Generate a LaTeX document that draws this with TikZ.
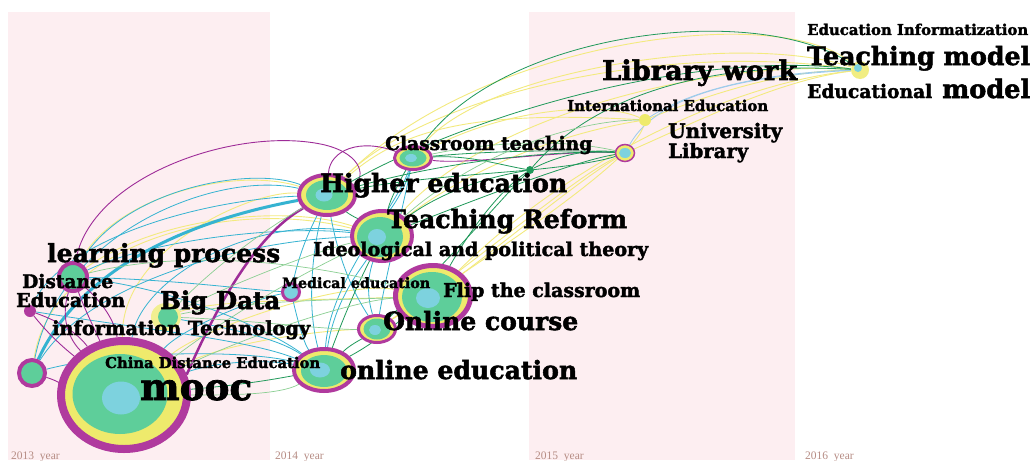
\documentclass[tikz,border=0pt]{standalone}
\usepackage{fontspec}
\usepackage{graphicx}
\usetikzlibrary{shapes.geometric}
\newfontfamily\labfont{DejaVu Serif}[BoldFeatures={FakeBold=2}]
\newfontfamily\yearfont{Liberation Serif}
\definecolor{pinkbg}{HTML}{FDEEF1}
\definecolor{kpur}{HTML}{B03A9E}
\definecolor{kyel}{HTML}{EEEA6C}
\definecolor{kgrn}{HTML}{5ECE9A}
\definecolor{kblu}{HTML}{7DD2DE}
\definecolor{ecya}{HTML}{35B3D1}
\definecolor{eyel}{HTML}{F3EA7E}
\definecolor{egrn}{HTML}{20995A}
\definecolor{elgr}{HTML}{8ACF92}
\definecolor{epur}{HTML}{9E2C98}
\definecolor{eblu}{HTML}{9CCBEB}
\definecolor{yearc}{HTML}{B68C84}
\pgfdeclarelayer{bands}
\pgfdeclarelayer{edges}
\pgfsetlayers{bands,edges,main}
\newcommand\kw[2]{\resizebox{#1pt}{!}{\labfont\bfseries #2}}
\begin{document}
\begin{tikzpicture}[x=1pt,y=-1pt,
  ring/.style={ellipse,inner sep=0pt,draw=kpur,fill=kyel},
  core/.style={ellipse,inner sep=0pt,fill=kgrn},
  eye/.style={ellipse,inner sep=0pt,fill=kblu},
  dot/.style={circle,inner sep=0pt},
  lab/.style={anchor=base west,inner sep=0pt},
  yr/.style={anchor=base west,inner sep=0pt,text=yearc,font=\yearfont\fontsize{11.5}{11.5}\selectfont},
  ec/.style={draw=ecya,line width=0.8pt},
  ey/.style={draw=eyel,line width=0.9pt},
  eg/.style={draw=egrn,line width=0.8pt},
  el/.style={draw=elgr,line width=0.7pt},
  ep/.style={draw=epur,line width=0.9pt},
  eb/.style={draw=eblu,line width=0.8pt}]
\useasboundingbox (0,0) rectangle (1032,460);
\begin{pgfonlayer}{bands}
\fill[white] (0,0) rectangle (1032,460);
\fill[pinkbg] (8,12) rectangle (270,460);
\fill[pinkbg] (529,12) rectangle (795,460);
\end{pgfonlayer}

% ---------- keyword nodes ----------
\node[ring,line width=8pt,minimum width=126pt,minimum height=108pt] (mooc) at (124,395) {};
\node[core,minimum width=95pt,minimum height=80pt] (moocg) at (120,394) {};
\node[eye,minimum width=38pt,minimum height=33pt] (moocb) at (121,398) {};

\node[ring,line width=4pt,fill=kgrn,minimum size=26pt] (L1) at (32,373) {};
\node[dot,fill=kpur,minimum size=12pt] (DE) at (30,311) {};
\node[ring,line width=4pt,fill=kgrn,minimum size=28pt] (lp) at (73,277) {};
\node[ellipse,inner sep=0pt,fill=kyel!75,minimum width=30pt,minimum height=28pt] (bd) at (166,317) {};
\node[core,minimum width=20pt,minimum height=20pt] (bdg) at (168,317) {};
\node[ring,line width=3pt,fill=kblu,minimum size=17pt] (med) at (291,292) {};

\node[ring,line width=4pt,minimum width=60pt,minimum height=42pt] (oe) at (324,370) {};
\node[core,minimum width=46pt,minimum height=32pt] (oeg) at (324,371) {};
\node[eye,minimum width=20pt,minimum height=15pt] (oeb) at (320,370) {};

\node[ring,line width=4pt,minimum width=56pt,minimum height=40pt] (he) at (327,195) {};
\node[core,minimum width=42pt,minimum height=30pt] (heg) at (327,195) {};
\node[eye,minimum width=17pt,minimum height=13pt] (heb) at (324,195) {};

\node[ring,line width=3pt,minimum width=37pt,minimum height=23pt] (ct) at (413,158) {};
\node[core,minimum width=27pt,minimum height=17pt] (ctg) at (413,158) {};
\node[eye,minimum width=12pt,minimum height=8pt] (ctb) at (411,158) {};

\node[ring,line width=4pt,minimum width=60pt,minimum height=50pt] (tr) at (382,236) {};
\node[core,minimum width=46pt,minimum height=40pt] (trg) at (380,237) {};
\node[eye,minimum width=18pt,minimum height=16pt] (trb) at (377,237) {};

\node[ring,line width=5pt,minimum width=75pt,minimum height=61pt] (fc) at (433,296) {};
\node[core,minimum width=60pt,minimum height=50pt] (fcg) at (432,297) {};
\node[eye,minimum width=24pt,minimum height=20pt] (fcb) at (428,298) {};

\node[ring,line width=3pt,minimum width=37pt,minimum height=27pt] (oc) at (377,329) {};
\node[core,minimum width=27pt,minimum height=21pt] (ocg) at (377,329) {};
\node[eye,minimum width=12pt,minimum height=10pt] (ocb) at (375,330) {};

\node[ring,line width=1.5pt,minimum width=19pt,minimum height=17pt] (ul) at (625,153) {};
\node[eye,minimum width=12pt,minimum height=10pt] (ulb) at (625,153) {};
\node[dot,fill=kyel,minimum size=12pt] (ie) at (645,120) {};
\node[dot,fill=egrn,minimum size=8pt] (gd) at (530,170) {};
\node[dot,fill=kyel!85,minimum size=18pt] (tm) at (860,70) {};
\node[dot,fill=kblu,minimum size=8pt] (tmb) at (858,68) {};

% ---------- connectors ----------
\begin{pgfonlayer}{edges}
% yellow
\draw[ey] (mooc) .. controls (120,250) and (250,190) .. (he);
\draw[ey] (lp) .. controls (110,200) and (230,165) .. (he);
\draw[ey] (L1) .. controls (50,250) and (220,195) .. (tr);
\draw[ey] (mooc) .. controls (200,330) and (340,280) .. (fc);
\draw[ey] (mooc) .. controls (230,340) and (330,330) .. (oc);
\draw[ey] (bd) .. controls (210,300) and (320,300) .. (fc);
\draw[ey] (lp) .. controls (160,215) and (290,205) .. (tr);
\draw[ey] (he) .. controls (480,40) and (780,0) .. (tm);
\draw[ey] (he) .. controls (420,100) and (650,40) .. (tm);
\draw[ey] (ct) .. controls (480,70) and (740,30) .. (tm);
\draw[ey] (tr) .. controls (480,120) and (700,60) .. (tm);
\draw[ey] (fc) .. controls (560,170) and (720,85) .. (tm);
\draw[ey] (tr) .. controls (480,160) and (580,130) .. (ie);
\draw[ey] (ct) .. controls (500,110) and (600,100) .. (ie);
\draw[ey] (fc) .. controls (520,230) and (580,180) .. (ul);
\draw[ey] (oc) .. controls (480,260) and (570,180) .. (ul);
\draw[ey] (ul) .. controls (700,120) and (780,80) .. (tm);
\draw[ey] (ie) .. controls (720,90) and (790,70) .. (tm);
\draw[ey] (ie) .. controls (640,140) and (610,180) .. (oc);
\draw[ey] (he) .. controls (400,130) and (470,110) .. (ie);
% cyan
\draw[ecya,line width=3pt] (L1) .. controls (70,290) and (150,228) .. (he);
\draw[ec] (lp) .. controls (120,190) and (250,165) .. (he);
\draw[ec] (L1) .. controls (60,230) and (220,170) .. (he);
\draw[ec] (DE) .. controls (60,240) and (200,200) .. (he);
\draw[ec] (mooc) .. controls (140,280) and (250,215) .. (tr);
\draw[ec] (lp) .. controls (150,240) and (280,225) .. (tr);
\draw[ec] (L1) .. controls (90,280) and (250,240) .. (tr);
\draw[ec] (mooc) .. controls (180,330) and (250,300) .. (med);
\draw[ec] (lp) .. controls (180,280) and (250,290) .. (med);
\draw[ec] (lp) .. controls (180,290) and (270,330) .. (oe);
\draw[ec] (DE) .. controls (150,330) and (250,340) .. (oe);
\draw[ec] (L1) .. controls (120,350) and (250,350) .. (oe);
\draw[ec] (mooc) .. controls (220,360) and (270,360) .. (oe);
\draw[ec] (bd) .. controls (240,330) and (280,340) .. (oe);
\draw[ec] (oe) .. controls (305,300) and (315,240) .. (he);
\draw[ec] (oe) .. controls (335,300) and (360,270) .. (tr);
\draw[ec] (oe) .. controls (330,280) and (395,210) .. (ct);
\draw[ec] (med) .. controls (300,330) and (305,345) .. (oe);
\draw[ec] (med) .. controls (300,250) and (310,230) .. (he);
\draw[ec] (oc) .. controls (365,290) and (370,270) .. (tr);
\draw[ec] (oc) .. controls (345,280) and (335,240) .. (he);
\draw[ec] (ct) .. controls (405,190) and (390,210) .. (tr);
\draw[ec] (ct) .. controls (400,220) and (385,280) .. (oc);
% purple
\draw[ep] (lp) .. controls (90,175) and (240,125) .. (325,145) .. controls (365,155) and (365,180) .. (he);
\draw[ep] (he) .. controls (330,150) and (360,138) .. (ct);
\draw[ep] (ct) .. controls (470,165) and (560,150) .. (ul);
\draw[epur,line width=2.5pt] (mooc.18) .. controls (215,310) and (255,235) .. (he);
\draw[ep] (DE) .. controls (45,330) and (60,345) .. (mooc);
\draw[ep] (DE) .. controls (55,320) and (75,330) .. (mooc);
\draw[ep] (lp) .. controls (85,310) and (95,330) .. (mooc);
\draw[ep] (lp) .. controls (100,300) and (115,320) .. (mooc);
\draw[ep] (L1) .. controls (55,380) and (65,385) .. (mooc);
\draw[ep] (lp) .. controls (60,320) and (70,340) .. (mooc);
% green
\draw[eg] (ct) .. controls (500,30) and (760,0) .. (tm);
\draw[eg] (he) .. controls (480,110) and (700,50) .. (tm);
\draw[eg] (gd) .. controls (590,100) and (700,60) .. (tm);
\draw[eg] (ct) .. controls (470,155) and (500,165) .. (gd);
\draw[eg] (gd) .. controls (570,150) and (600,150) .. (ul);
\draw[eg] (gd) .. controls (580,165) and (605,160) .. (ul);
\draw[eg] (ct) .. controls (500,150) and (580,150) .. (ul);
\draw[eg] (gd) .. controls (470,180) and (430,200) .. (tr);
\draw[eg] (gd) .. controls (470,175) and (400,180) .. (he);
\draw[eg] (fc) .. controls (470,230) and (500,190) .. (gd);
\draw[eg] (oc) .. controls (450,260) and (500,200) .. (gd);
\draw[eg] (tr) .. controls (500,190) and (580,160) .. (ul);
\draw[eg] (he) .. controls (450,160) and (560,150) .. (ul);
\draw[eg] (oe) .. controls (350,345) and (360,340) .. (oc);
\draw[eg] (oe) .. controls (380,340) and (400,320) .. (fc);
\draw[eg] (mooc) .. controls (240,385) and (270,380) .. (oe);
\draw[eg] (tr) .. controls (390,200) and (400,180) .. (ct);
\draw[eg] (he) .. controls (350,215) and (360,220) .. (tr);
\draw[eg] (oe) .. controls (350,300) and (365,270) .. (tr);
% light green
\draw[el] (mooc) .. controls (250,300) and (330,260) .. (tr);
\draw[el] (mooc) .. controls (260,330) and (360,300) .. (fc);
\draw[el] (bd) .. controls (220,260) and (280,220) .. (he);
\draw[el] (bd) .. controls (240,280) and (320,250) .. (tr);
\draw[el] (bd) .. controls (250,300) and (340,300) .. (fc);
\draw[el] (bd) .. controls (250,320) and (330,330) .. (oc);
\draw[el] (ct) .. controls (500,140) and (570,140) .. (ul);
\draw[el] (tr) .. controls (480,150) and (580,120) .. (ie);
\draw[el] (mooc) .. controls (230,395) and (280,395) .. (oe);
\draw[el] (lp) .. controls (180,250) and (300,260) .. (fc);
% light blue
\draw[eb] (ul) .. controls (660,90) and (760,75) .. (tm);
\draw[eb] (ie) .. controls (700,85) and (780,72) .. (tm);
\end{pgfonlayer}

% ---------- labels ----------
\node[lab] (t-lp) at (47,262) {\kw{233}{learning process}};
\node[lab] (t-de1) at (22,288) {\kw{91}{Distance}};
\node[lab] (t-de2) at (16,307) {\kw{109}{Education}};
\node[lab] (t-bd) at (160,309) {\kw{120}{Big Data}};
\node[lab] (t-it) at (52,335) {\kw{258}{information Technology}};
\node[lab] (t-cde) at (105,368) {\kw{215}{China Distance Education}};
\node[lab] (t-mooc) at (140,400) {\kw{112}{mooc}};
\node[lab] (t-med) at (282,288) {\kw{148}{Medical education}};
\node[lab] (t-oe) at (340,379) {\kw{237}{online education}};
\node[lab] (t-oc) at (383,330) {\kw{195}{Online course}};
\node[lab] (t-fc) at (443,297) {\kw{197}{Flip the classroom}};
\node[lab] (t-ipt) at (313,256) {\kw{335}{Ideological and political theory}};
\node[lab] (t-tr) at (387,228) {\kw{240}{Teaching Reform}};
\node[lab] (t-he) at (320,192) {\kw{247}{Higher education}};
\node[lab] (t-ct) at (385,150) {\kw{207}{Classroom teaching}};
\node[lab] (t-lw) at (602,80) {\kw{195}{Library work}};
\node[lab] (t-ie) at (567,111) {\kw{201}{International Education}};
\node[lab] (t-ul1) at (668,138) {\kw{114}{University}};
\node[lab] (t-ul2) at (668,158) {\kw{80}{Library}};
\node[lab] (t-ei) at (807,35) {\kw{221}{Education Informatization}};
\node[lab] (t-tm) at (807,65) {\kw{223}{Teaching model}};
\node[lab] (t-em1) at (807,98) {\kw{125}{Educational}};
\node[lab] (t-em2) at (942,98) {\kw{88}{model}};

\node[yr] (y13) at (11,459) {2013~~year};
\node[yr] (y14) at (275,459) {2014~~year};
\node[yr] (y15) at (535,459) {2015~~year};
\node[yr] (y16) at (805,459) {2016~~year};
\end{tikzpicture}
\end{document}
